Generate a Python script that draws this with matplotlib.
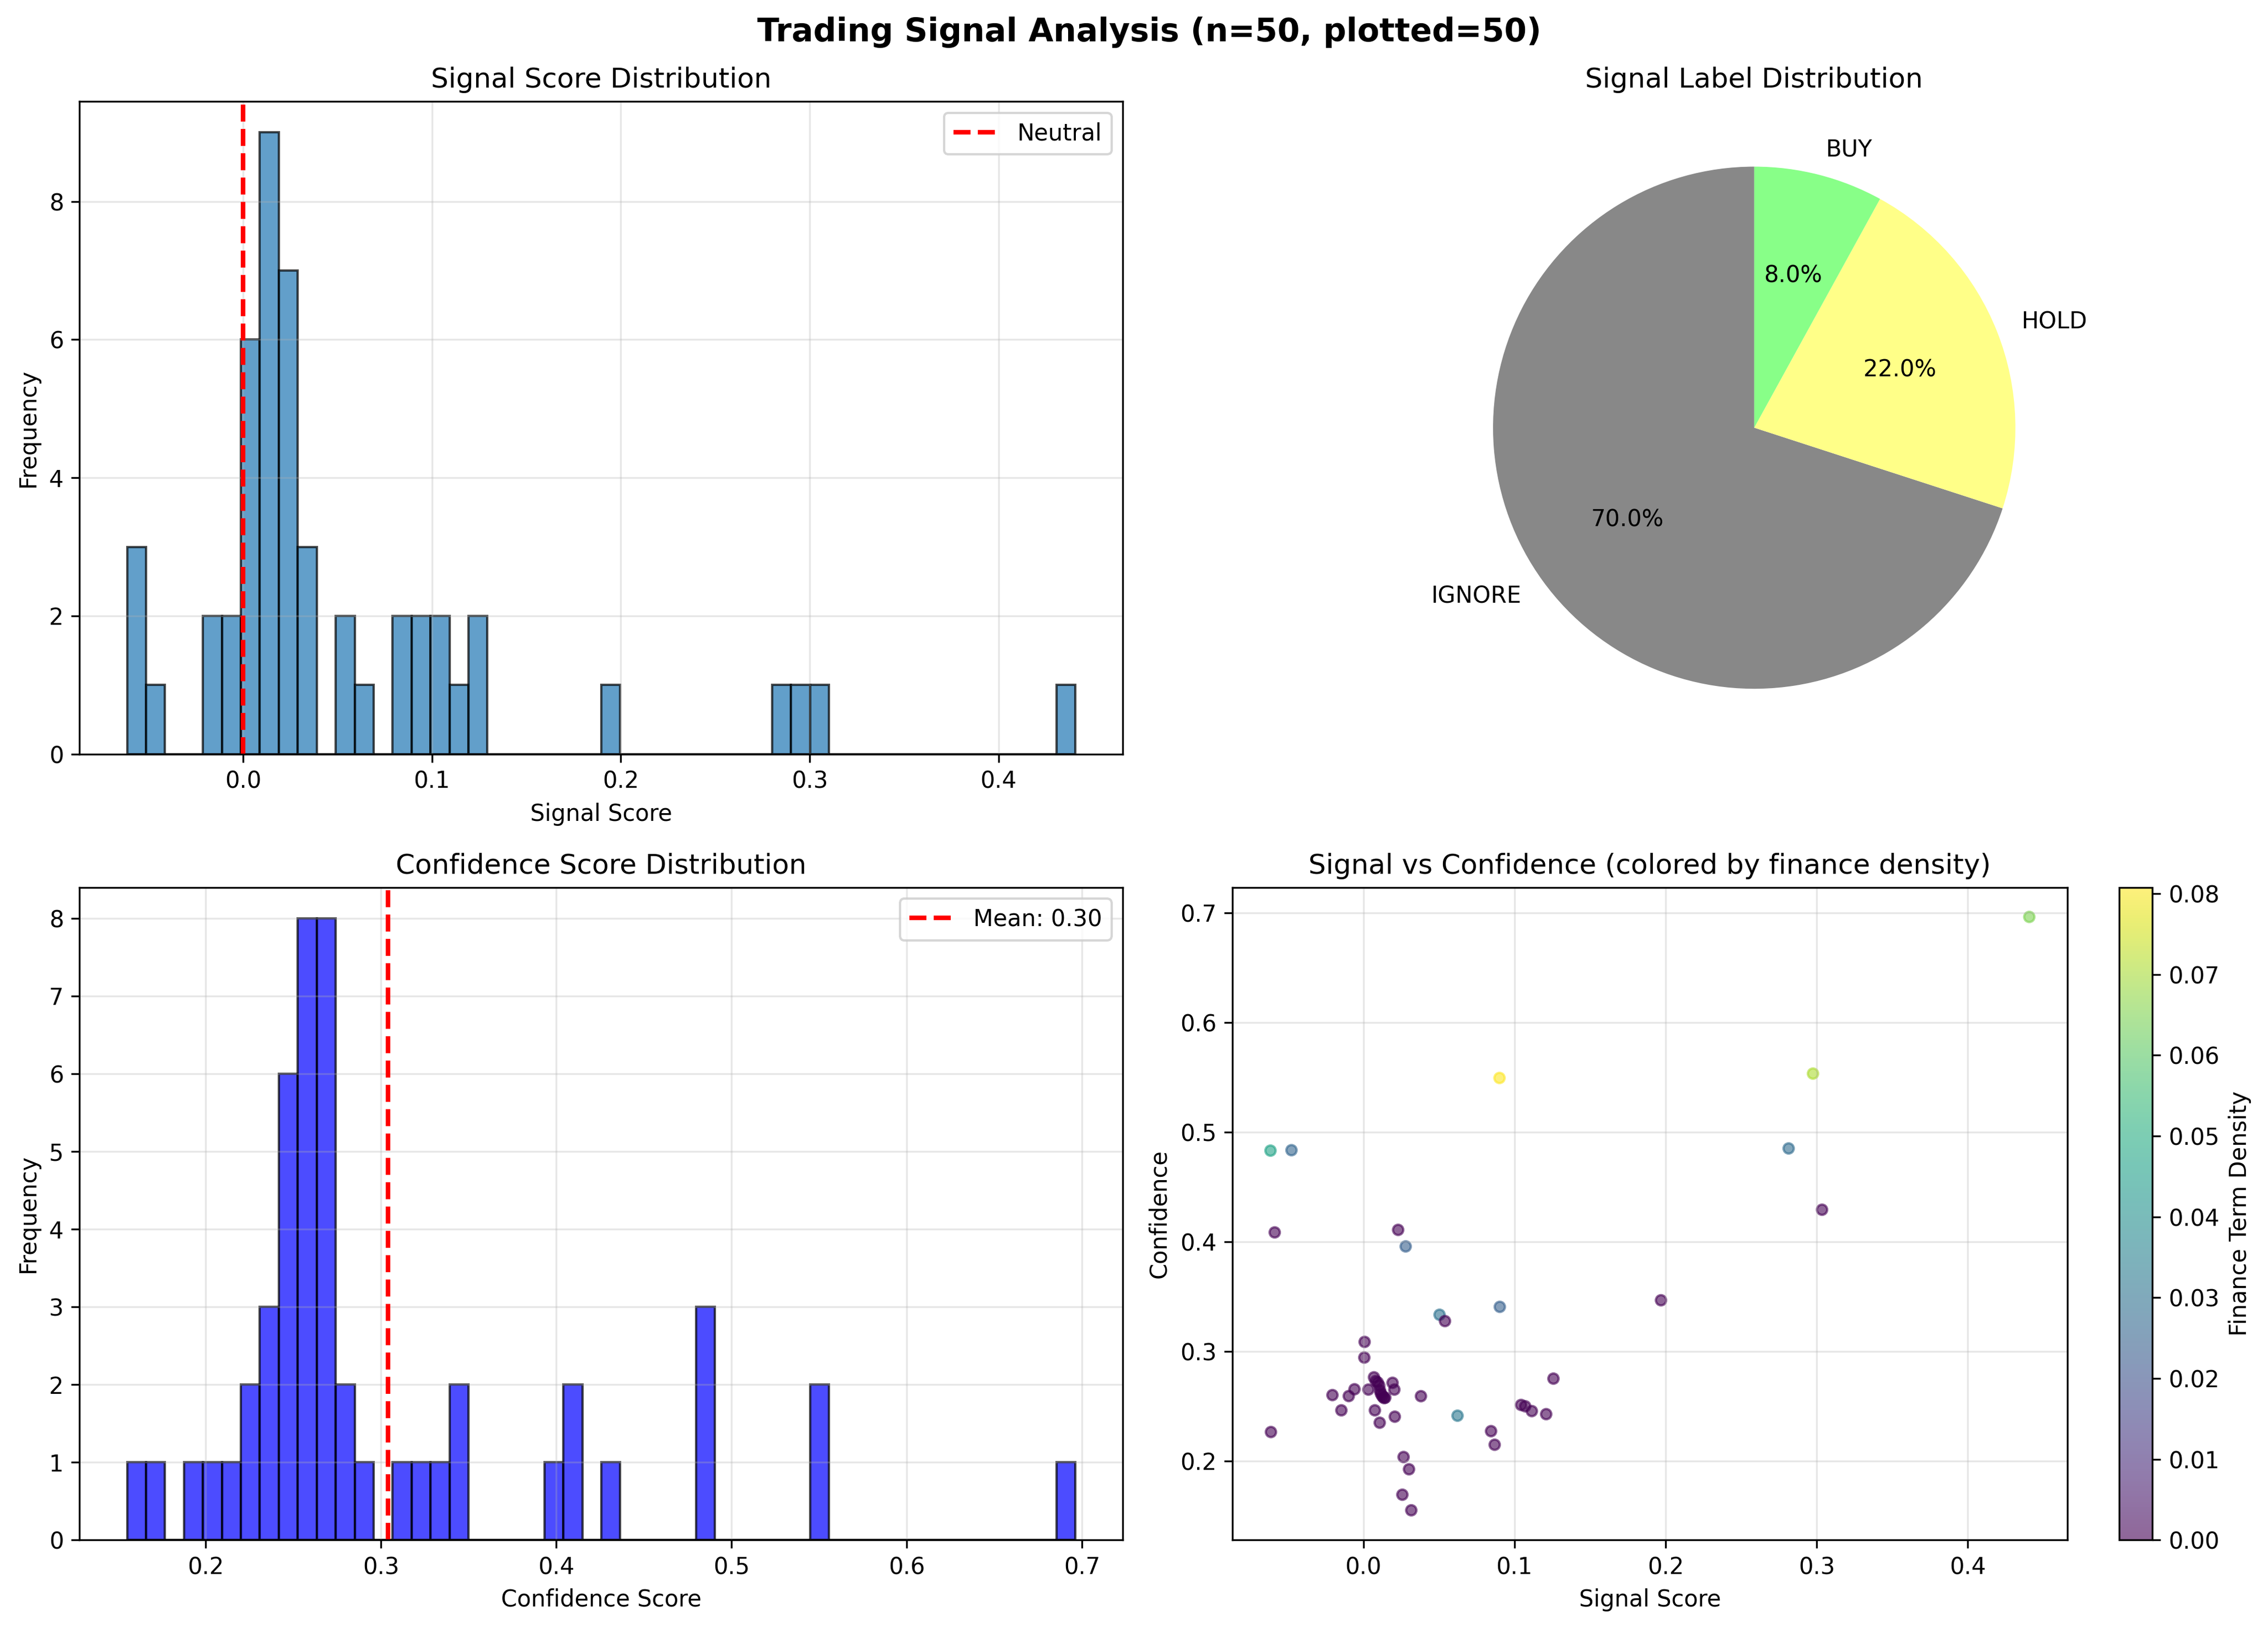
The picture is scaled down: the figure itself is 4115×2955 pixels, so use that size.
import matplotlib
matplotlib.use("Agg")
import matplotlib.pyplot as plt
import numpy as np

# per-article values (same order in all three arrays)
signal_scores = [
    0.4408, 0.0901, 0.2976, -0.0615, -0.0476, 0.2815, 0.3036, -0.0587, 0.0230, 0.0280,
    0.1970, 0.0903, 0.0504, 0.0540, 0.0008, 0.0006, 0.1258, 0.0070, 0.0193, 0.0205,
    0.0033, -0.0059, -0.0205, -0.0097, 0.0381, 0.1044, 0.1071, 0.1115, 0.1210, -0.0146,
    0.0076, 0.0208, 0.0623, 0.0108, -0.0612, 0.0845, 0.0869, 0.0266, 0.0302, 0.0258,
    0.0317, 0.0082, 0.0095, 0.0105, 0.0110, 0.0115, 0.0122, 0.0130, 0.0138, 0.0145,
]
confidence = [
    0.6964, 0.5495, 0.5535, 0.4832, 0.4836, 0.4852, 0.4293, 0.4086, 0.4109, 0.3958,
    0.3467, 0.3407, 0.3335, 0.3277, 0.3087, 0.2944, 0.2752, 0.2764, 0.2714, 0.2652,
    0.2652, 0.2655, 0.2602, 0.2593, 0.2592, 0.2512, 0.2500, 0.2456, 0.2428, 0.2463,
    0.2463, 0.2405, 0.2414, 0.2350, 0.2265, 0.2273, 0.2149, 0.2037, 0.1925, 0.1693,
    0.1551, 0.2730, 0.2717, 0.2689, 0.2644, 0.2619, 0.2599, 0.2584, 0.2574, 0.2579,
]
finance_density = [
    0.065, 0.0808, 0.071, 0.047, 0.026, 0.028, 0.0, 0.0, 0.0, 0.024,
    0.0, 0.024, 0.030, 0.0, 0.0, 0.0, 0.0, 0.0, 0.0, 0.0,
    0.0, 0.0, 0.0, 0.0, 0.0, 0.0, 0.0, 0.0, 0.0, 0.0,
    0.0, 0.0, 0.032, 0.0, 0.0, 0.0, 0.0, 0.0, 0.0, 0.0,
    0.0, 0.0, 0.0, 0.0, 0.0, 0.0, 0.0, 0.0, 0.0, 0.0,
]

label_names = ["IGNORE", "HOLD", "BUY"]
label_counts = [35, 11, 4]
label_colors = ["#888888", "#ffff88", "#88ff88"]

signal = np.array(signal_scores)
conf = np.array(confidence)
density = np.array(finance_density)
n = len(signal)

fig, axes = plt.subplots(2, 2, figsize=(14, 10))
fig.suptitle(f"Trading Signal Analysis (n={n}, plotted={n})",
             fontsize=14, fontweight="bold")

# signal score histogram
ax1 = axes[0, 0]
ax1.hist(signal, bins=50, alpha=0.7, edgecolor="black")
ax1.axvline(0, color="red", linestyle="--", linewidth=2, label="Neutral")
ax1.set_title("Signal Score Distribution")
ax1.set_xlabel("Signal Score")
ax1.set_ylabel("Frequency")
ax1.legend()
ax1.grid(True, alpha=0.3)

# label pie
ax2 = axes[0, 1]
ax2.pie(label_counts, labels=label_names, colors=label_colors,
        autopct="%1.1f%%", startangle=90)
ax2.set_title("Signal Label Distribution")

# confidence histogram
ax3 = axes[1, 0]
ax3.hist(conf, bins=50, alpha=0.7, color="blue", edgecolor="black")
mean_conf = conf.mean()
ax3.axvline(mean_conf, color="red", linestyle="--", linewidth=2,
            label=f"Mean: {mean_conf:.2f}")
ax3.set_title("Confidence Score Distribution")
ax3.set_xlabel("Confidence Score")
ax3.set_ylabel("Frequency")
ax3.legend()
ax3.grid(True, alpha=0.3)

# signal vs confidence
ax4 = axes[1, 1]
sc = ax4.scatter(signal, conf, c=density, cmap="viridis", alpha=0.6, s=20)
ax4.set_title("Signal vs Confidence (colored by finance density)")
ax4.set_xlabel("Signal Score")
ax4.set_ylabel("Confidence")
ax4.grid(True, alpha=0.3)
fig.colorbar(sc, ax=ax4, label="Finance Term Density")

plt.tight_layout()
fig.savefig("out.png", dpi=300, bbox_inches="tight")
